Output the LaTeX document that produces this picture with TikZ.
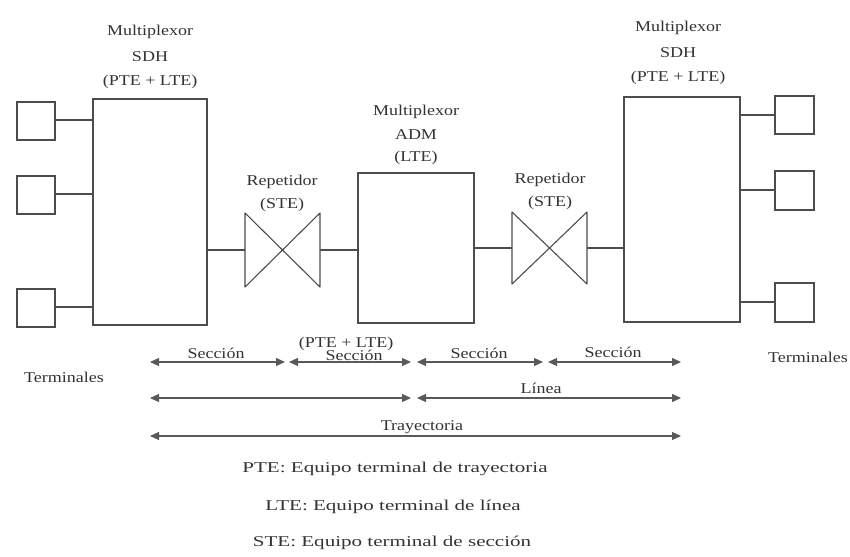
\documentclass[tikz,border=0pt]{standalone}
\usepackage{fontspec}
\setmainfont{Liberation Serif}
\usetikzlibrary{arrows.meta}
\begin{document}
\begin{tikzpicture}[x=1pt,y=-1pt,
  ln/.style={draw=black!70,line width=1.1pt},
  box/.style={ln,fill=white},
  lbl/.style={text=black!80,font=\fontsize{15}{17}\selectfont,xscale=1.2,inner sep=0pt,align=center},
  leg/.style={lbl,xscale=1.17},
  dim/.style={draw=black!65,line width=1.1pt,{Triangle[length=9pt,width=8pt]}-{Triangle[length=9pt,width=8pt]}}]
\useasboundingbox (0,0) rectangle (850,556);
% multiplexers
\draw[box] (93,99) rectangle (207,325);
\draw[box] (358,173) rectangle (474,323);
\draw[box] (624,97) rectangle (740,322);
% left terminals
\draw[box] (17,102) rectangle (55,140);
\draw[box] (17,176) rectangle (55,214);
\draw[box] (17,289) rectangle (55,327);
\draw[ln] (55,120) -- (93,120);
\draw[ln] (55,194) -- (93,194);
\draw[ln] (55,307) -- (93,307);
% right terminals
\draw[box] (775,96) rectangle (814,134);
\draw[box] (775,171) rectangle (814,210);
\draw[box] (775,283) rectangle (814,322);
\draw[ln] (740,115) -- (775,115);
\draw[ln] (740,190) -- (775,190);
\draw[ln] (740,302) -- (775,302);
% repeaters
\draw[ln,line join=round] (245,213) -- (245,287) -- (320,213) -- (320,287) -- cycle;
\draw[ln,line join=round] (512,212) -- (512,284) -- (587,212) -- (587,284) -- cycle;
\draw[ln] (207,250) -- (245,250);
\draw[ln] (320,250) -- (358,250);
\draw[ln] (474,248) -- (512,248);
\draw[ln] (587,248) -- (624,248);
% labels
\node[lbl] (t1) at (150,32) {Multiplexor};
\node[lbl] (t2) at (150,57) {SDH};
\node[lbl] (t3) at (150,82) {(PTE + LTE)};
\node[lbl] (a1) at (416,112) {Multiplexor};
\node[lbl] (a2) at (416,135) {ADM};
\node[lbl] (a3) at (416,158) {(LTE)};
\node[lbl] (u1) at (678,28) {Multiplexor};
\node[lbl] (u2) at (678,53) {SDH};
\node[lbl] (u3) at (678,78) {(PTE + LTE)};
\node[lbl] (r1) at (282,182) {Repetidor};
\node[lbl] (r2) at (282,205) {(STE)};
\node[lbl] (s1) at (550,180) {Repetidor};
\node[lbl] (s2) at (550,203) {(STE)};
\node[lbl] (tl) at (64,377) {Terminales};
\node[lbl] (tr) at (808,357) {Terminales};
% dimension arrows
\coordinate (p0) at (150,362);
\coordinate (p1) at (285,362);
\coordinate (p2) at (289,362);
\coordinate (p3) at (411,362);
\coordinate (p4) at (417,362);
\coordinate (p5) at (543,362);
\coordinate (p6) at (548,362);
\coordinate (p7) at (681,362);
\draw[dim] (p0) -- (p1);
\draw[dim] (p2) -- (p3);
\draw[dim] (p4) -- (p5);
\draw[dim] (p6) -- (p7);
\coordinate (q0) at (150,398);
\coordinate (q1) at (411,398);
\coordinate (q2) at (417,398);
\coordinate (q3) at (681,398);
\draw[dim] (q0) -- (q1);
\draw[dim] (q2) -- (q3);
\coordinate (w0) at (150,436);
\coordinate (w1) at (681,436);
\draw[dim] (w0) -- (w1);
\node[lbl] (sc1) at (216,353) {Sección};
\node[lbl] (pl) at (346,344) {(PTE + LTE)};
\node[lbl] (sc2) at (354,355) {Sección};
\node[lbl] (sc3) at (479,353) {Sección};
\node[lbl] (sc4) at (613,352) {Sección};
\node[lbl] (li) at (541,388) {Línea};
\node[lbl] (tra) at (422,427) {Trayectoria};
% legend
\node[leg] (g1) at (395,469) {PTE: Equipo terminal de trayectoria};
\node[leg] (g2) at (393,507) {LTE: Equipo terminal de línea};
\node[leg] (g3) at (392,543) {STE: Equipo terminal de sección};
\end{tikzpicture}
\end{document}
